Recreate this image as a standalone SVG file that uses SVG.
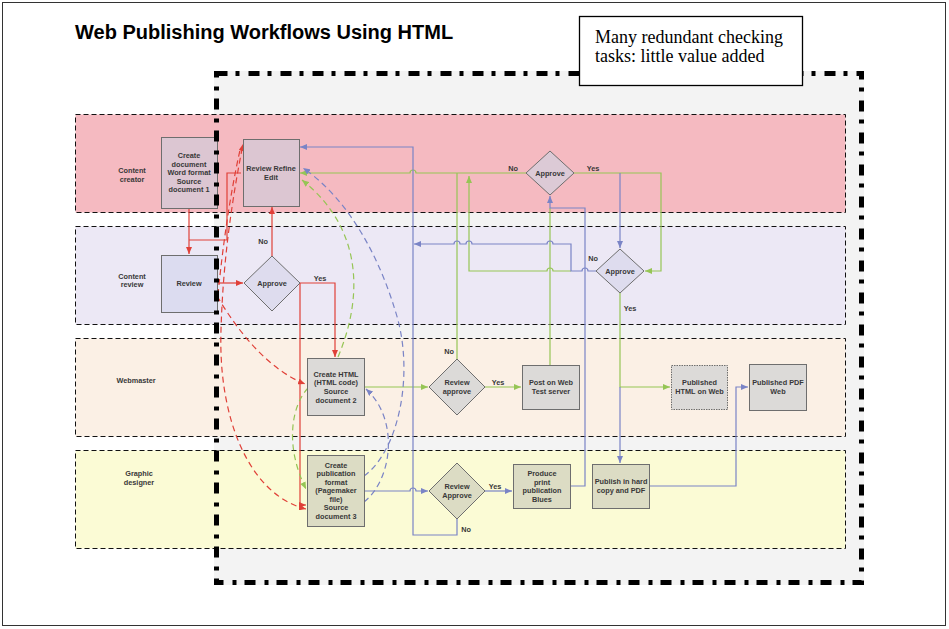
<svg xmlns="http://www.w3.org/2000/svg" width="949" height="629" viewBox="0 0 949 629">
<style>
.t{font-family:"Liberation Sans",Arial,sans-serif;font-size:7.3px;font-weight:bold;fill:#383838;text-anchor:middle}
.lane{stroke:#111;stroke-width:1;stroke-dasharray:5 3}
.box{stroke:#6e6e6e;stroke-width:1}
.r{fill:none;stroke:#e04038;stroke-width:1.2}
.g{fill:none;stroke:#96c555;stroke-width:1.2}
.b{fill:none;stroke:#7a84c6;stroke-width:1.2}
.d{stroke-dasharray:6 4}
</style>
<defs>
<marker id="ar" viewBox="0 0 7 6" refX="7" refY="3" markerWidth="7" markerHeight="6" markerUnits="userSpaceOnUse" orient="auto-start-reverse"><path d="M0,0 L7,3 L0,6 z" fill="#e04038"/></marker>
<marker id="ag" viewBox="0 0 7 6" refX="7" refY="3" markerWidth="7" markerHeight="6" markerUnits="userSpaceOnUse" orient="auto-start-reverse"><path d="M0,0 L7,3 L0,6 z" fill="#96c555"/></marker>
<marker id="ab" viewBox="0 0 7 6" refX="7" refY="3" markerWidth="7" markerHeight="6" markerUnits="userSpaceOnUse" orient="auto-start-reverse"><path d="M0,0 L7,3 L0,6 z" fill="#7a84c6"/></marker>
</defs>
<rect x="0" y="0" width="949" height="629" fill="#fff"/>
<rect x="2.5" y="2.5" width="943" height="623" fill="none" stroke="#333" stroke-width="1"/>
<text x="75" y="39" style="font-family:'Liberation Sans',Arial,sans-serif;font-size:20px;font-weight:bold;fill:#000">Web Publishing Workflows Using HTML</text>
<rect x="214" y="71" width="650" height="514" fill="#f3f3f3"/>
<g id="lanes">
<rect class="lane" x="75.5" y="114.5" width="770" height="98" fill="#f5bac1"/>
<rect class="lane" x="75.5" y="226.5" width="770" height="98" fill="#ece8f5"/>
<rect class="lane" x="75.5" y="338.5" width="770" height="98" fill="#fbf0e5"/>
<rect class="lane" x="75.5" y="450.5" width="770" height="98" fill="#fbfbd5"/>
<text class="t" x="132" y="173">Content</text><text class="t" x="132" y="181.5">creator</text>
<text class="t" x="132" y="278.5">Content</text><text class="t" x="132" y="287">review</text>
<text class="t" x="136" y="383">Webmaster</text>
<text class="t" x="139" y="476">Graphic</text><text class="t" x="139" y="485">designer</text>
</g>
<g id="connectors">
<path class="r" d="M189,208 V254" marker-end="url(#ar)"/>
<path class="r" d="M189,240 H227 V173 H241"/>
<path class="r" d="M272,256 V207" marker-end="url(#ar)"/>
<path class="r" d="M217,283 H243" marker-end="url(#ar)"/>
<path class="r" d="M300,283 H335 V357" marker-end="url(#ar)"/>
<path class="r" d="M300,283 V505 H306" marker-end="url(#ar)"/>
<path class="r d" d="M306,509 C250,495 218,420 221,330 C223,260 232,200 243,144" marker-start="url(#ar)" marker-end="url(#ar)"/>
<path class="r d" d="M217,305 C222,250 230,195 240,150"/>
<path class="r d" d="M217,296 C240,335 270,370 305,384" marker-end="url(#ar)"/>
<path class="g" d="M364,387 H428" marker-end="url(#ag)"/>
<path class="g" d="M485,387 H521" marker-end="url(#ag)"/>
<path class="g" d="M457,359 V173"/>
<path class="g" d="M526,173 H416 a3,3 0 0 0 -6,0 H300" marker-end="url(#ag)"/>
<path class="g" d="M550,365 V208"/>
<path class="g" d="M571,271 H553 a3,3 0 0 0 -6,0 H469 V176" marker-end="url(#ag)"/>
<path class="g" d="M574,173 H661 V271 H645" marker-end="url(#ag)"/>
<path class="g" d="M620,293 V387 H670" marker-end="url(#ag)"/>
<path class="g d" d="M338,357 C362,300 365,230 302,180" marker-end="url(#ag)"/>
<path class="g d" d="M308,388 C292,405 284,445 306,489" marker-end="url(#ag)"/>
<path class="b" d="M364,491 H410 a3,3 0 0 1 6,0 H428" marker-end="url(#ab)"/>
<path class="b" d="M485,491 H512" marker-end="url(#ab)"/>
<path class="b" d="M457,519 V535 H413 V147 H300" marker-end="url(#ab)"/>
<path class="b" d="M570,486 H585 V208 H550 V196" marker-end="url(#ab)"/>
<path class="b" d="M620,173 V248" marker-end="url(#ab)"/>
<path class="b" d="M596,271 H588 a3,3 0 0 0 -6,0 H571 V244 H553 a3,3 0 0 0 -6,0 H472 a3,3 0 0 0 -6,0 H460 a3,3 0 0 0 -6,0 H414" marker-end="url(#ab)"/>
<path class="b" d="M620,387 V463" marker-end="url(#ab)"/>
<path class="b" d="M649,486 H736 V387 H748" marker-end="url(#ab)"/>
<path class="b d" d="M364,476 C400,450 415,370 395,310 C380,260 350,200 303,168" marker-end="url(#ab)"/>
<path class="b d" d="M364,502 C392,480 400,420 366,389" marker-end="url(#ab)"/>
<text class="t" x="263" y="243.5">No</text>
<text class="t" x="320" y="281">Yes</text>
<text class="t" x="513" y="170.5">No</text>
<text class="t" x="593" y="170.5">Yes</text>
<text class="t" x="593" y="260.5">No</text>
<text class="t" x="630" y="310.5">Yes</text>
<text class="t" x="449" y="353.5">No</text>
<text class="t" x="498" y="384.5">Yes</text>
<text class="t" x="495" y="488.5">Yes</text>
<text class="t" x="466" y="531.5">No</text>
</g>
<g id="n-create-doc"><rect class="box" x="161.5" y="137.5" width="56" height="71" fill="#dcc6d2"/>
<text class="t" x="189" y="158">Create</text><text class="t" x="189" y="166.6">document</text><text class="t" x="189" y="175.2">Word format</text><text class="t" x="189" y="183.8">Source</text><text class="t" x="189" y="192.4">document 1</text></g>
<g id="n-review-refine"><rect class="box" x="243.5" y="139.5" width="56" height="67" fill="#dcc6d2"/>
<text class="t" x="271" y="170.5">Review Refine</text><text class="t" x="271" y="179.5">Edit</text></g>
<g id="n-approve-top"><polygon class="box" points="550,151 574,173 550,195 526,173" fill="#dccad6"/><text class="t" x="550" y="175.5">Approve</text></g>
<g id="n-review"><rect class="box" x="161.5" y="255.5" width="56" height="57" fill="#dcdcf0"/><text class="t" x="189" y="285.5">Review</text></g>
<g id="n-approve-cr"><polygon class="box" points="272,256 300,283 272,311 244,283" fill="#dedcee"/><text class="t" x="272" y="285.5">Approve</text></g>
<g id="n-approve-right"><polygon class="box" points="620,249 644,271 620,293 596,271" fill="#dedcee"/><text class="t" x="620" y="273.5">Approve</text></g>
<g id="n-create-html"><rect class="box" x="307.5" y="358.5" width="57" height="57" fill="#dcdad8"/>
<text class="t" x="336" y="376.5">Create HTML</text><text class="t" x="336" y="385.2">(HTML code)</text><text class="t" x="336" y="393.9">Source</text><text class="t" x="336" y="402.6">document 2</text></g>
<g id="n-review-approve-w"><polygon class="box" points="457,359 485,387 457,415 429,387" fill="#dcdad8"/><text class="t" x="457" y="385">Review</text><text class="t" x="457" y="393.5">approve</text></g>
<g id="n-post-web"><rect class="box" x="522.5" y="365.5" width="57" height="44" fill="#dcdad8"/><text class="t" x="551" y="385">Post on Web</text><text class="t" x="551" y="394">Test server</text></g>
<g id="n-pub-html"><rect class="box" x="671.5" y="365.5" width="56" height="44" fill="#dcdad8" stroke-dasharray="1.5 1"/><text class="t" x="699.5" y="385">Published</text><text class="t" x="699.5" y="394">HTML on Web</text></g>
<g id="n-pub-pdf"><rect class="box" x="749.5" y="364.5" width="57" height="46" fill="#dcdad8"/><text class="t" x="778" y="385">Published PDF</text><text class="t" x="778" y="394">Web</text></g>
<g id="n-create-pub"><rect class="box" x="307.5" y="455.5" width="57" height="71" fill="#dcdcc4"/>
<text class="t" x="336" y="467.5">Create</text><text class="t" x="336" y="476">publication</text><text class="t" x="336" y="484.5">format</text><text class="t" x="336" y="493">(Pagemaker</text><text class="t" x="336" y="501.5">file)</text><text class="t" x="336" y="510">Source</text><text class="t" x="336" y="518.5">document 3</text></g>
<g id="n-review-approve-g"><polygon class="box" points="457,463 485,491 457,519 429,491" fill="#dcdcc4"/><text class="t" x="457" y="489">Review</text><text class="t" x="457" y="497.5">Approve</text></g>
<g id="n-produce"><rect class="box" x="513.5" y="464.5" width="57" height="44" fill="#dcdcc4"/>
<text class="t" x="542" y="476">Produce</text><text class="t" x="542" y="484.5">print</text><text class="t" x="542" y="493">publication</text><text class="t" x="542" y="501.5">Blues</text></g>
<g id="n-publish-hard"><rect class="box" x="592.5" y="464.5" width="57" height="44" fill="#dcdcc4"/><text class="t" x="621" y="484">Publish in hard</text><text class="t" x="621" y="492.5">copy and PDF</text></g>
<rect x="216.5" y="73.5" width="645" height="509" fill="none" stroke="#000" stroke-width="5" stroke-dasharray="11 8 4 9"/>
<g id="callout"><rect x="579.5" y="16.5" width="223" height="69" fill="#fff" stroke="#000" stroke-width="1.3"/>
<text x="595" y="43" style="font-family:'Liberation Serif','Times New Roman',serif;font-size:18px;fill:#000">Many redundant checking</text>
<text x="595" y="62" style="font-family:'Liberation Serif','Times New Roman',serif;font-size:18px;fill:#000">tasks: little value added</text></g>
</svg>
